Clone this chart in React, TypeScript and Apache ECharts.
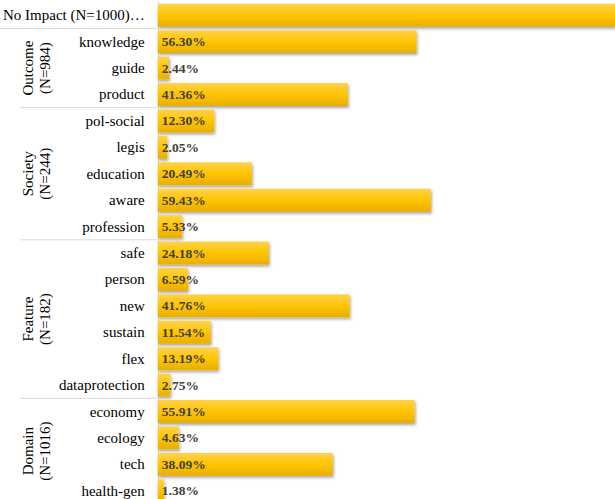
import React, { useEffect, useRef } from 'react';
import * as echarts from 'echarts';

const categories = [
  'No Impact (N=1000)…',
  'knowledge', 'guide', 'product',
  'pol-social', 'legis', 'education', 'aware', 'profession',
  'safe', 'person', 'new', 'sustain', 'flex', 'dataprotection',
  'economy', 'ecology', 'tech', 'health-gen',
];
const values = [
  100,
  56.30, 2.44, 41.36,
  12.30, 2.05, 20.49, 59.43, 5.33,
  24.18, 6.59, 41.76, 11.54, 13.19, 2.75,
  55.91, 4.63, 38.09, 1.38,
];
const groupNames = ['Outcome\n(N=984)', 'Society\n(N=244)', 'Feature\n(N=182)', 'Domain\n(N=1016)'];
const groupSizes = [3, 5, 6, 4];

const FONT = 'Liberation Serif';

export default function App() {
  const ref = useRef<HTMLDivElement>(null);
  useEffect(() => {
    if (!ref.current) return;
    const chart = echarts.init(ref.current, null, { renderer: 'svg' });
    const barColor = new echarts.graphic.LinearGradient(0, 0, 0, 1, [
      { offset: 0, color: '#FFD24D' },
      { offset: 0.5, color: '#FFC400' },
      { offset: 1, color: '#E9AE00' },
    ]);
    chart.setOption({
      animation: false,
      grid: { left: 157.5, right: 0, top: 2, height: 502, containLabel: false },
      xAxis: {
        type: 'value', min: 0, max: 99.5,
        axisLine: { show: false }, axisTick: { show: false },
        axisLabel: { show: false }, splitLine: { show: false },
      },
      yAxis: {
        type: 'category', inverse: true, data: categories,
        axisLine: { show: true, lineStyle: { color: '#d9d9d9', width: 1 } },
        axisTick: { show: false },
        axisLabel: { fontSize: 15, color: '#000', fontFamily: FONT, margin: 13 },
      },
      series: [{
        type: 'bar',
        barCategoryGap: '13%',
        clip: true,
        data: values.map((v, i) => ({
          value: v,
          label: { show: i !== 0 },
        })),
        itemStyle: {
          color: barColor,
          shadowColor: 'rgba(0,0,0,0.35)',
          shadowBlur: 3,
          shadowOffsetX: 1,
          shadowOffsetY: 2,
        },
        label: {
          show: true,
          position: 'insideLeft',
          distance: 4,
          formatter: (p: any) => p.value.toFixed(2) + '%',
          fontFamily: FONT,
          fontWeight: 'bold',
          fontSize: 13.5,
          color: '#404040',
        },
      }],
    });

    const py = (i: number) => chart.convertToPixel({ yAxisIndex: 0 }, categories[i]) as number;
    const rowH = py(1) - py(0);
    const graphics: any[] = [];
    let start = 1;
    groupSizes.forEach((size, g) => {
      const yTop = (py(start - 1) + py(start)) / 2;
      const end = start + size - 1;
      const yBot = py(end) + rowH / 2;
      graphics.push({
        type: 'line',
        shape: { x1: g === 0 ? 0 : 20, y1: yTop, x2: 157, y2: yTop },
        style: { stroke: '#d9d9d9', lineWidth: 1 },
        silent: true,
      });
      graphics.push({
        type: 'text',
        x: 36, y: (yTop + yBot) / 2,
        rotation: Math.PI / 2,
        style: {
          text: groupNames[g],
          fontFamily: FONT, fontSize: 15, fill: '#000',
          align: 'center', verticalAlign: 'middle', lineHeight: 17,
        },
        silent: true,
      });
      start = end + 1;
    });
    chart.setOption({ graphic: graphics });
    return () => chart.dispose();
  }, []);
  return (
    <div style={{ position: 'absolute', left: 0, top: 0, width: 615, height: 499, overflow: 'hidden' }}>
      <div ref={ref} style={{ width: 615, height: 510 }} />
    </div>
  );
}
